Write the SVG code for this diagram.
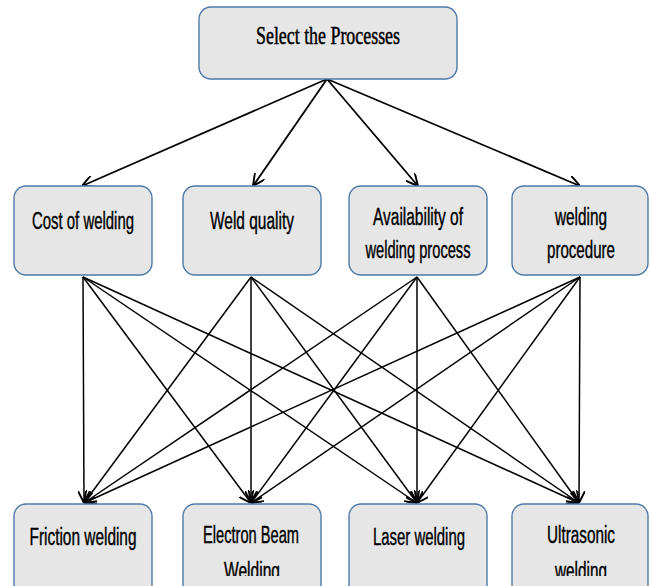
<svg xmlns="http://www.w3.org/2000/svg" width="650" height="586" viewBox="0 0 650 586">
<style>
.box{fill:#e6e6e6;stroke:#4f79a8;stroke-width:1.4}
.t{font-family:"Liberation Sans",Arial,sans-serif;font-size:23px;fill:#000;stroke:#000;stroke-width:0.4;text-anchor:middle}
.title{font-family:"Liberation Serif","Times New Roman",serif;font-size:25px;fill:#000;stroke:#000;stroke-width:0.5;text-anchor:middle}
.c{stroke:#000;stroke-width:1.5;fill:none}
.ct{stroke:#000;stroke-width:1.8;fill:none}
</style>
<defs>
<marker id="ah" viewBox="0 0 10 10" refX="10" refY="5" markerWidth="12" markerHeight="12" markerUnits="userSpaceOnUse" orient="auto">
<path d="M0,0 L10,5 L0,10" fill="none" stroke="#000" stroke-width="1.6"/>
</marker>
<clipPath id="clipb"><rect x="0" y="0" width="650" height="576"/></clipPath>
</defs>
<g id="connectors">
<line class="ct" x1="327" y1="79" x2="82" y2="186" marker-end="url(#ah)"/>
<line class="ct" x1="327" y1="79" x2="253" y2="186" marker-end="url(#ah)"/>
<line class="ct" x1="327" y1="79" x2="418" y2="186" marker-end="url(#ah)"/>
<line class="ct" x1="327" y1="79" x2="580" y2="186" marker-end="url(#ah)"/>
<line class="c" x1="83" y1="277" x2="84" y2="503" marker-end="url(#ah)"/>
<line class="c" x1="83" y1="277" x2="251" y2="503" marker-end="url(#ah)"/>
<line class="c" x1="83" y1="277" x2="417" y2="503" marker-end="url(#ah)"/>
<line class="c" x1="83" y1="277" x2="579" y2="503" marker-end="url(#ah)"/>
<line class="c" x1="251" y1="277" x2="84" y2="503" marker-end="url(#ah)"/>
<line class="c" x1="251" y1="277" x2="251" y2="503" marker-end="url(#ah)"/>
<line class="c" x1="251" y1="277" x2="417" y2="503" marker-end="url(#ah)"/>
<line class="c" x1="251" y1="277" x2="579" y2="503" marker-end="url(#ah)"/>
<line class="c" x1="417" y1="277" x2="84" y2="503" marker-end="url(#ah)"/>
<line class="c" x1="417" y1="277" x2="251" y2="503" marker-end="url(#ah)"/>
<line class="c" x1="417" y1="277" x2="417" y2="503" marker-end="url(#ah)"/>
<line class="c" x1="417" y1="277" x2="579" y2="503" marker-end="url(#ah)"/>
<line class="c" x1="580" y1="277" x2="84" y2="503" marker-end="url(#ah)"/>
<line class="c" x1="580" y1="277" x2="251" y2="503" marker-end="url(#ah)"/>
<line class="c" x1="580" y1="277" x2="417" y2="503" marker-end="url(#ah)"/>
<line class="c" x1="580" y1="277" x2="579" y2="503" marker-end="url(#ah)"/>
</g>
<g id="select">
<rect class="box" x="199" y="7" width="258" height="72" rx="12"/>
<text class="title" x="328" y="44" textLength="144" lengthAdjust="spacingAndGlyphs">Select the Processes</text>
</g>
<g id="cost">
<rect class="box" x="14" y="186" width="138" height="89" rx="12"/>
<text class="t" x="83" y="229" textLength="102" lengthAdjust="spacingAndGlyphs">Cost of welding</text>
</g>
<g id="quality">
<rect class="box" x="183" y="186" width="138" height="89" rx="12"/>
<text class="t" x="252" y="229" textLength="84" lengthAdjust="spacingAndGlyphs">Weld quality</text>
</g>
<g id="availability">
<rect class="box" x="349" y="186" width="138" height="89" rx="12"/>
<text class="t" x="418" y="225" textLength="90" lengthAdjust="spacingAndGlyphs">Availability of</text>
<text class="t" x="418" y="258" textLength="105" lengthAdjust="spacingAndGlyphs">welding process</text>
</g>
<g id="procedure">
<rect class="box" x="512" y="186" width="136" height="89" rx="12"/>
<text class="t" x="581" y="225" textLength="52" lengthAdjust="spacingAndGlyphs">welding</text>
<text class="t" x="581" y="258" textLength="68" lengthAdjust="spacingAndGlyphs">procedure</text>
</g>
<g id="friction">
<rect class="box" x="14" y="504" width="138" height="100" rx="12"/>
<text class="t" x="83" y="545" textLength="107" lengthAdjust="spacingAndGlyphs">Friction welding</text>
</g>
<g id="electron">
<rect class="box" x="183" y="504" width="138" height="100" rx="12"/>
<g clip-path="url(#clipb)">
<text class="t" x="251" y="543" textLength="96" lengthAdjust="spacingAndGlyphs">Electron Beam</text>
<text class="t" x="252" y="579" textLength="56" lengthAdjust="spacingAndGlyphs">Welding</text>
</g>
</g>
<g id="laser">
<rect class="box" x="349" y="504" width="138" height="100" rx="12"/>
<text class="t" x="419" y="545" textLength="92" lengthAdjust="spacingAndGlyphs">Laser welding</text>
</g>
<g id="ultrasonic">
<rect class="box" x="512" y="504" width="136" height="100" rx="12"/>
<g clip-path="url(#clipb)">
<text class="t" x="581" y="543" textLength="68" lengthAdjust="spacingAndGlyphs">Ultrasonic</text>
<text class="t" x="581" y="579" textLength="52" lengthAdjust="spacingAndGlyphs">welding</text>
</g>
</g>
</svg>
